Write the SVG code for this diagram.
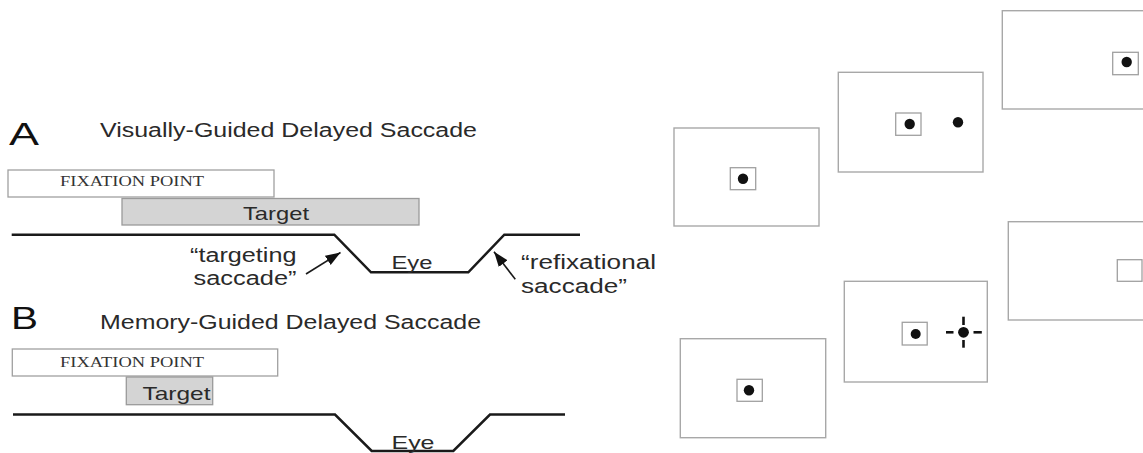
<svg xmlns="http://www.w3.org/2000/svg" width="1143" height="453" viewBox="0 0 1143 453">
<style>
.lbl{font-family:"Liberation Sans",Arial,sans-serif;fill:#2a2a2a}
.big{font-family:"Liberation Sans",Arial,sans-serif;fill:#111;font-size:32px}
.fix{font-family:"Liberation Serif","Times New Roman",serif;fill:#333;font-size:14px}
.bar{fill:#fff;stroke:#a0a0a0;stroke-width:1.3}
.tgt{fill:#d4d4d4;stroke:#9a9a9a;stroke-width:1.3}
.eye{fill:none;stroke:#1a1a1a;stroke-width:2.5;stroke-linejoin:miter}
.frame{fill:#fff;stroke:#a8a8a8;stroke-width:1.4}
.sq{fill:#fff;stroke:#a0a0a0;stroke-width:1.3}
.dot{fill:#111}
.arr{stroke:#1a1a1a;stroke-width:1.6;fill:none;marker-end:url(#ah)}
.tick{stroke:#111;stroke-width:2.6}
</style>
<defs>
<marker id="ah" markerUnits="userSpaceOnUse" markerWidth="16" markerHeight="12" refX="15" refY="5.5" orient="auto">
<path d="M0,0 L15,5.5 L0,11 Z" fill="#111"/>
</marker>
</defs>
<rect width="1143" height="453" fill="#fff"/>

<g id="panelA">
<text class="big" x="9" y="145" textLength="30" lengthAdjust="spacingAndGlyphs">A</text>
<text class="lbl" x="100" y="137" font-size="19.5" textLength="377" lengthAdjust="spacingAndGlyphs">Visually-Guided Delayed Saccade</text>
<g id="fixA"><rect class="bar" x="8" y="170" width="266" height="27"/>
<text class="fix" x="60" y="185.5" textLength="144" lengthAdjust="spacingAndGlyphs">FIXATION POINT</text></g>
<g id="targetA"><rect class="tgt" x="122" y="198.5" width="297" height="26.5"/>
<text class="lbl" x="243" y="219.5" font-size="19" textLength="66" lengthAdjust="spacingAndGlyphs">Target</text></g>
<g id="eyeA"><path class="eye" d="M11.7,234.7 L334.3,234.7 L371,272.3 L468.3,272.3 L504.3,234.7 L580,234.7"/>
<text class="lbl" x="391.5" y="268.5" font-size="18.5" textLength="41" lengthAdjust="spacingAndGlyphs">Eye</text></g>
<g id="labelTargeting">
<text class="lbl" x="190" y="261.5" font-size="19.5" textLength="106.5" lengthAdjust="spacingAndGlyphs">“targeting</text>
<text class="lbl" x="193.5" y="285" font-size="19.5" textLength="103" lengthAdjust="spacingAndGlyphs">saccade”</text>
</g>
<g id="labelRefix">
<text class="lbl" x="521" y="269" font-size="19.5" textLength="135" lengthAdjust="spacingAndGlyphs">“refixational</text>
<text class="lbl" x="521" y="292.7" font-size="19.5" textLength="106" lengthAdjust="spacingAndGlyphs">saccade”</text>
</g>
</g>

<g id="panelB">
<text class="big" x="11" y="329" textLength="27" lengthAdjust="spacingAndGlyphs">B</text>
<text class="lbl" x="100" y="328.5" font-size="19.5" textLength="381" lengthAdjust="spacingAndGlyphs">Memory-Guided Delayed Saccade</text>
<g id="fixB"><rect class="bar" x="12.3" y="349" width="265.4" height="27"/>
<text class="fix" x="60" y="366.5" textLength="144" lengthAdjust="spacingAndGlyphs">FIXATION POINT</text></g>
<g id="targetB"><rect class="tgt" x="126.3" y="377" width="86.4" height="27.7"/>
<text class="lbl" x="142.5" y="400" font-size="19" textLength="68" lengthAdjust="spacingAndGlyphs">Target</text></g>
<g id="eyeB"><path class="eye" d="M13,414.5 L335,414.5 L371.7,451 L453.3,451 L490,414.5 L565,414.5"/>
<text class="lbl" x="391.5" y="448.5" font-size="18.5" textLength="43" lengthAdjust="spacingAndGlyphs">Eye</text></g>
</g>

<g id="connectors">
<line class="arr" x1="306" y1="274" x2="340.5" y2="252.5"/>
<line class="arr" x1="515.3" y1="279.3" x2="494" y2="251.7"/>
</g>

<g id="screen1"><rect class="frame" x="674" y="128" width="145" height="98"/>
<rect class="sq" x="730.3" y="167.7" width="25.4" height="22"/><circle class="dot" cx="743" cy="178.7" r="5.2"/></g>
<g id="screen2"><rect class="frame" x="838.3" y="72.3" width="144.7" height="99.7"/>
<rect class="sq" x="895.7" y="113" width="25.3" height="22.3"/><circle class="dot" cx="909.7" cy="124" r="5.2"/>
<circle class="dot" cx="958" cy="122.3" r="5.2"/></g>
<g id="screen3"><rect class="frame" x="1002.3" y="10.7" width="146" height="98.3"/>
<rect class="sq" x="1112.7" y="52.3" width="25.6" height="22.4"/><circle class="dot" cx="1126.7" cy="62" r="5.2"/></g>
<g id="screen4"><rect class="frame" x="680.3" y="338.7" width="145.4" height="99"/>
<rect class="sq" x="737" y="379.3" width="25.3" height="22"/><circle class="dot" cx="749" cy="390.3" r="5.2"/></g>
<g id="screen5"><rect class="frame" x="844.3" y="281.3" width="143" height="100.7"/>
<rect class="sq" x="902.2" y="322.3" width="25" height="22.7"/><circle class="dot" cx="915.7" cy="334" r="5"/>
<circle class="dot" cx="963.5" cy="332.3" r="5.4"/>
<line class="tick" x1="946" y1="332.3" x2="953.5" y2="332.3"/>
<line class="tick" x1="973.5" y1="332.3" x2="981.8" y2="332.3"/>
<line class="tick" x1="963.5" y1="316.7" x2="963.5" y2="325"/>
<line class="tick" x1="963.5" y1="340" x2="963.5" y2="347.7"/></g>
<g id="screen6"><rect class="frame" x="1008.3" y="221.7" width="146" height="98.3"/>
<rect class="sq" x="1117.3" y="259.7" width="24.7" height="21.6"/></g>
</svg>
